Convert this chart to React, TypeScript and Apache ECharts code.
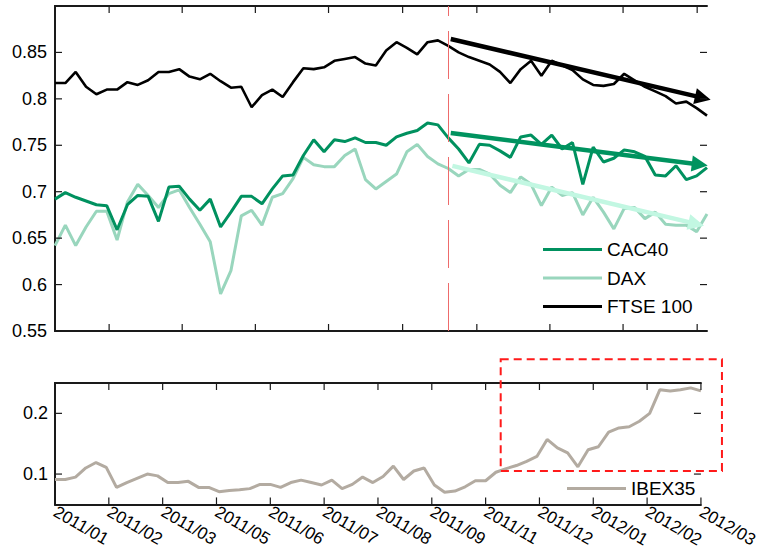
import React, { useEffect, useRef } from "react";
import * as echarts from "echarts";

// ---- data (weekly observations, index 0..63) ----
const xLabels = ["2011/01", "2011/02", "2011/03", "2011/05", "2011/06", "2011/07", "2011/08", "2011/09", "2011/11", "2011/12", "2012/01", "2012/02", "2012/03"];
const labelStep = 5.25;
const topTicks = [5.23, 12.29, 19.36, 26.43, 33.59, 40.76, 47.82, 54.89, 62.05];
const topYTicks = [0.55, 0.6, 0.65, 0.7, 0.75, 0.8, 0.85, 0.9];
const bottomYTicks = [0.1, 0.2];

const cac40 = [0.692, 0.699, 0.694, 0.69, 0.686, 0.685, 0.659, 0.686, 0.696, 0.695, 0.668, 0.705, 0.706, 0.692, 0.68, 0.692,
  0.662, 0.678, 0.695, 0.695, 0.687, 0.703, 0.717, 0.718, 0.739, 0.756, 0.743, 0.756, 0.754, 0.758, 0.753, 0.753,
  0.75, 0.759, 0.763, 0.766, 0.774, 0.772, 0.758, 0.746, 0.731, 0.751, 0.75, 0.744, 0.737, 0.759, 0.761, 0.751,
  0.761, 0.746, 0.753, 0.708, 0.748, 0.732, 0.736, 0.745, 0.743, 0.738, 0.718, 0.717, 0.728, 0.713, 0.717, 0.726];
const dax = [0.642, 0.664, 0.642, 0.662, 0.679, 0.679, 0.648, 0.689, 0.708, 0.696, 0.683, 0.698, 0.702, 0.683, 0.665, 0.646,
  0.59, 0.615, 0.674, 0.68, 0.664, 0.694, 0.698, 0.714, 0.737, 0.729, 0.727, 0.727, 0.739, 0.746, 0.713, 0.703,
  0.711, 0.719, 0.743, 0.751, 0.738, 0.73, 0.725, 0.717, 0.724, 0.724, 0.719, 0.707, 0.699, 0.716, 0.708, 0.685,
  0.705, 0.696, 0.699, 0.675, 0.694, 0.678, 0.66, 0.682, 0.683, 0.671, 0.678, 0.665, 0.664, 0.664, 0.657, 0.676];
const ftse = [0.817, 0.817, 0.829, 0.813, 0.805, 0.81, 0.81, 0.818, 0.815, 0.82, 0.829, 0.829, 0.832, 0.824, 0.821, 0.827,
  0.819, 0.812, 0.813, 0.791, 0.804, 0.81, 0.802, 0.818, 0.833, 0.832, 0.834, 0.841, 0.843, 0.845, 0.838, 0.836,
  0.852, 0.861, 0.855, 0.848, 0.861, 0.863, 0.857, 0.85, 0.845, 0.841, 0.837, 0.829, 0.817, 0.832, 0.841, 0.825,
  0.841, 0.836, 0.831, 0.821, 0.815, 0.814, 0.816, 0.827, 0.82, 0.813, 0.808, 0.803, 0.795, 0.797, 0.79, 0.782];
const ibex35 = [0.091, 0.091, 0.095, 0.11, 0.119, 0.111, 0.078, 0.086, 0.093, 0.1, 0.097, 0.086, 0.086, 0.088, 0.078, 0.078,
  0.071, 0.073, 0.074, 0.076, 0.083, 0.083, 0.078, 0.086, 0.09, 0.086, 0.082, 0.09, 0.076, 0.083, 0.095, 0.086,
  0.096, 0.113, 0.091, 0.105, 0.11, 0.082, 0.07, 0.072, 0.079, 0.089, 0.089, 0.103, 0.109, 0.114, 0.121, 0.129,
  0.157, 0.143, 0.135, 0.112, 0.14, 0.145, 0.169, 0.176, 0.178, 0.187, 0.2, 0.239, 0.237, 0.239, 0.242, 0.237];

// trend arrows: [start, end] in data coordinates
const ftseTrend = [[38.24, 0.8645], [62.6, 0.801]];
const cacTrend = [[38.24, 0.7633], [62.3, 0.7293]];
const daxTrend = [[38.4, 0.7278], [61.96, 0.6653]];
const breakIndex = 38;
// focus box on IBEX35: [x0, x1, yLow, yHigh]
const focusBox = [43.47, 65.05, 0.105, 0.289];

const FONT = "Liberation Sans, Arial, sans-serif";
const AX = "#1a1a1a";
const C_CAC = "#00915f";
const C_DAX = "#99d6bd";
const C_FTSE = "#000000";
const C_IBEX = "#b3aba1";
const TICK_LEN = 7;

const pairs = (arr: number[]) => arr.map((v, i) => [i, v]);

function arrowLine(tr: number[][], color: string) {
  return [
    { coord: tr[0], symbol: "none", lineStyle: { color, width: 4.5, type: "solid" } },
    { coord: tr[1], symbol: "triangle", symbolSize: 16, itemStyle: { color } },
  ];
}

export default function App() {
  const ref = useRef<HTMLDivElement>(null);
  useEffect(() => {
    if (!ref.current) return;
    const chart = echarts.init(ref.current, undefined, { renderer: "svg" });
    const axisLine = { show: true, lineStyle: { color: AX, width: 2 } };
    const noTick = { show: false };
    const option: any = {
      animation: false,
      backgroundColor: "#fff",
      textStyle: { fontFamily: FONT },
      grid: [
        { left: 55, right: 54, top: 6, height: 325 },
        { left: 55, right: 54, top: 383, height: 128 },
      ],
      xAxis: [
        { type: "value", gridIndex: 0, min: 0, max: 63, position: "bottom", axisLine, splitLine: { show: false }, axisLabel: { show: false }, axisTick: noTick },
        { type: "value", gridIndex: 0, min: 0, max: 63, position: "top", axisLine, splitLine: { show: false }, axisLabel: { show: false }, axisTick: noTick },
        {
          type: "value", gridIndex: 1, min: 0, max: 63, interval: labelStep, position: "bottom",
          axisLine, splitLine: { show: false }, axisTick: noTick,
          axisLabel: {
            show: true, rotate: -30, margin: 6, fontSize: 17, color: "#000", fontFamily: FONT,
            formatter: (v: number) => xLabels[Math.round(v / labelStep)] ?? "",
          },
        },
        { type: "value", gridIndex: 1, min: 0, max: 63, interval: labelStep, position: "top", axisLine, splitLine: { show: false }, axisLabel: { show: false }, axisTick: noTick },
      ],
      yAxis: [
        {
          type: "value", gridIndex: 0, min: 0.55, max: 0.9, interval: 0.05, position: "left",
          axisLine, splitLine: { show: false }, axisTick: noTick,
          axisLabel: {
            show: true, fontSize: 18, color: "#000", margin: 8, fontFamily: FONT,
            formatter: (v: number) => (v > 0.89 ? "" : String(Math.round(v * 100) / 100)),
          },
        },
        { type: "value", gridIndex: 0, min: 0.55, max: 0.9, interval: 0.05, position: "right", axisLine, splitLine: { show: false }, axisLabel: { show: false }, axisTick: noTick },
        {
          type: "value", gridIndex: 1, min: 0.05, max: 0.25, position: "left",
          axisLine, splitLine: { show: false }, axisTick: noTick,
          axisLabel: {
            show: true, fontSize: 18, color: "#000", margin: 7, fontFamily: FONT, customValues: bottomYTicks,
            formatter: (v: number) => String(Math.round(v * 100) / 100),
          },
        },
        { type: "value", gridIndex: 1, min: 0.05, max: 0.25, position: "right", axisLine, splitLine: { show: false }, axisLabel: { show: false }, axisTick: noTick },
      ],
      legend: [
        {
          data: ["CAC40", "DAX", "FTSE 100"], orient: "vertical", left: 538, top: 235,
          icon: "rect", itemWidth: 59, itemHeight: 3, itemGap: 9.5, selectedMode: false,
          textStyle: { fontSize: 19, color: "#000", fontFamily: FONT, lineHeight: 19 },
        },
        {
          data: ["IBEX35"], orient: "vertical", left: 562, top: 474,
          icon: "rect", itemWidth: 59, itemHeight: 3, selectedMode: false,
          textStyle: { fontSize: 19, color: "#000", fontFamily: FONT, lineHeight: 19 },
        },
      ],
      series: [
        {
          name: "DAX", type: "line", xAxisIndex: 0, yAxisIndex: 0, data: pairs(dax),
          symbol: "none", lineStyle: { color: C_DAX, width: 3 }, itemStyle: { color: C_DAX }, z: 2,
          markLine: { silent: true, symbol: ["none", "none"], label: { show: false }, data: [arrowLine(daxTrend, "#c2f7e2")] },
        },
        {
          name: "CAC40", type: "line", xAxisIndex: 0, yAxisIndex: 0, data: pairs(cac40),
          symbol: "none", lineStyle: { color: C_CAC, width: 3 }, itemStyle: { color: C_CAC }, z: 3,
          markLine: { silent: true, symbol: ["none", "none"], label: { show: false }, data: [arrowLine(cacTrend, "#00935f")] },
        },
        {
          name: "FTSE 100", type: "line", xAxisIndex: 0, yAxisIndex: 0, data: pairs(ftse),
          symbol: "none", lineStyle: { color: C_FTSE, width: 2.6 }, itemStyle: { color: C_FTSE }, z: 4,
          markLine: { silent: true, symbol: ["none", "none"], label: { show: false }, data: [arrowLine(ftseTrend, "#000")] },
        },
        {
          name: "break", type: "line", xAxisIndex: 0, yAxisIndex: 0, data: [], z: 1,
          markLine: {
            silent: true, symbol: ["none", "none"], label: { show: false },
            lineStyle: { color: "#ee6b6b", width: 1, type: [48, 15] },
            data: [{ xAxis: breakIndex }],
          },
        },
        {
          name: "IBEX35", type: "line", xAxisIndex: 2, yAxisIndex: 2, data: pairs(ibex35),
          symbol: "none", lineStyle: { color: C_IBEX, width: 3 }, itemStyle: { color: C_IBEX },
        },
      ],
    };
    chart.setOption(option);

    const px = (ax: number, p: number[]) =>
      chart.convertToPixel({ xAxisIndex: ax, yAxisIndex: ax } as any, p) as number[];
    const tickStyle = { stroke: AX, lineWidth: 1.2 };
    const graphics: any[] = [];
    const addTick = (x1: number, y1: number, x2: number, y2: number) =>
      graphics.push({ type: "line", silent: true, z: 50, shape: { x1, y1, x2, y2 }, style: tickStyle });

    // top panel: inward ticks on all four sides
    topTicks.forEach((v) => {
      const b = px(0, [v, 0.55]);
      const t = px(0, [v, 0.9]);
      addTick(b[0], b[1], b[0], b[1] - TICK_LEN);
      addTick(t[0], t[1], t[0], t[1] + TICK_LEN);
    });
    topYTicks.forEach((v) => {
      const l = px(0, [0, v]);
      const r = px(0, [63, v]);
      addTick(l[0], l[1], l[0] + TICK_LEN, l[1]);
      addTick(r[0], r[1], r[0] - TICK_LEN, r[1]);
    });
    // bottom panel
    xLabels.forEach((_, k) => {
      const v = k * labelStep;
      const b = px(2, [v, 0.05]);
      const t = px(2, [v, 0.25]);
      addTick(b[0], b[1], b[0], b[1] - TICK_LEN);
      addTick(t[0], t[1], t[0], t[1] + TICK_LEN);
    });
    bottomYTicks.forEach((v) => {
      const l = px(2, [0, v]);
      const r = px(2, [63, v]);
      addTick(l[0], l[1], l[0] + TICK_LEN, l[1]);
      addTick(r[0], r[1], r[0] - TICK_LEN, r[1]);
    });

    const p1 = px(2, [focusBox[0], focusBox[3]]);
    const p2 = px(2, [focusBox[1], focusBox[2]]);
    graphics.push({
      type: "rect", z: 100, silent: true,
      shape: { x: p1[0], y: p1[1], width: p2[0] - p1[0], height: p2[1] - p1[1] },
      style: { fill: "none", stroke: "#ff1a1a", lineWidth: 2, lineDash: [8, 5] },
    });
    chart.setOption({ graphic: graphics });
    return () => chart.dispose();
  }, []);
  return <div ref={ref} style={{ position: "absolute", left: 0, top: 0, width: 761, height: 550, background: "#fff" }} />;
}
